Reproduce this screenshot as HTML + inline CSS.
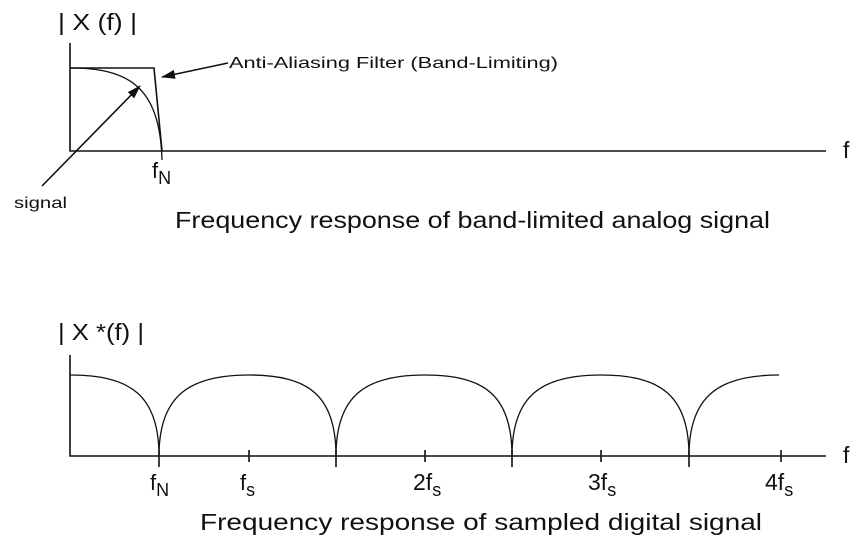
<!DOCTYPE html>
<html><head><style>html,body{margin:0;padding:0;background:#fff}svg{display:block}text{font-family:"Liberation Sans",Arial,sans-serif;fill:#111}</style></head>
<body>
<svg width="866" height="549" viewBox="0 0 866 549" xmlns="http://www.w3.org/2000/svg">
<defs><marker id="ah" markerWidth="14" markerHeight="9" refX="13" refY="4.5" orient="auto" markerUnits="userSpaceOnUse"><path d="M0,0 L14,4.5 L0,9 Z" fill="#111"/></marker></defs>
<g stroke="#111" fill="none" stroke-width="1.6">
<path d="M70,43 V151 H826"/>
<path d="M70,68 H154 L162,151"/>
<path d="M70,68 C128,68 160,86 162,160" stroke-width="1.3"/>
<line x1="228" y1="63" x2="162" y2="77" marker-end="url(#ah)"/>
<line x1="42" y1="186" x2="140" y2="86" marker-end="url(#ah)"/>
<path d="M70,355 V456 H826"/>
<path d="M159,450 V467 M249,450 V462 M336,450 V467 M425,450 V462 M512,450 V467 M601,450 V462 M689,450 V467 M781,450 V462"/>
<path stroke-width="1.3" d="M70,375 C130,375 159,395 159,456 C159,395 190,375 249,375 C308,375 336,395 336,456 C336,395 366,375 425,375 C484,375 512,395 512,456 C512,395 542,375 601,375 C660,375 689,395 689,456 C689,395 720,375 779,375"/>
</g>
<text x="58" y="30" font-size="23" textLength="79" lengthAdjust="spacingAndGlyphs">| X (f) |</text>
<text x="229" y="68" font-size="16" textLength="329" lengthAdjust="spacingAndGlyphs">Anti-Aliasing Filter (Band-Limiting)</text>
<text x="14" y="208" font-size="16" textLength="53" lengthAdjust="spacingAndGlyphs">signal</text>
<text x="152" y="178" font-size="22">f<tspan font-size="18" dy="6">N</tspan></text>
<text x="843" y="158" font-size="23">f</text>
<text x="175" y="228" font-size="23" textLength="595" lengthAdjust="spacingAndGlyphs">Frequency response of band-limited analog signal</text>
<text x="58" y="340" font-size="23" textLength="86" lengthAdjust="spacingAndGlyphs">| X *(f) |</text>
<text x="843" y="463" font-size="23">f</text>
<text x="150" y="490" font-size="22">f<tspan font-size="18" dy="6">N</tspan></text>
<text x="240" y="490" font-size="22">f<tspan font-size="18" dy="6">s</tspan></text>
<text x="413" y="490" font-size="23">2f<tspan font-size="18" dy="6">s</tspan></text>
<text x="588" y="490" font-size="23">3f<tspan font-size="18" dy="6">s</tspan></text>
<text x="765" y="490" font-size="23">4f<tspan font-size="18" dy="6">s</tspan></text>
<text x="200" y="530" font-size="23" textLength="562" lengthAdjust="spacingAndGlyphs">Frequency response of sampled digital signal</text>
</svg>
</body></html>
